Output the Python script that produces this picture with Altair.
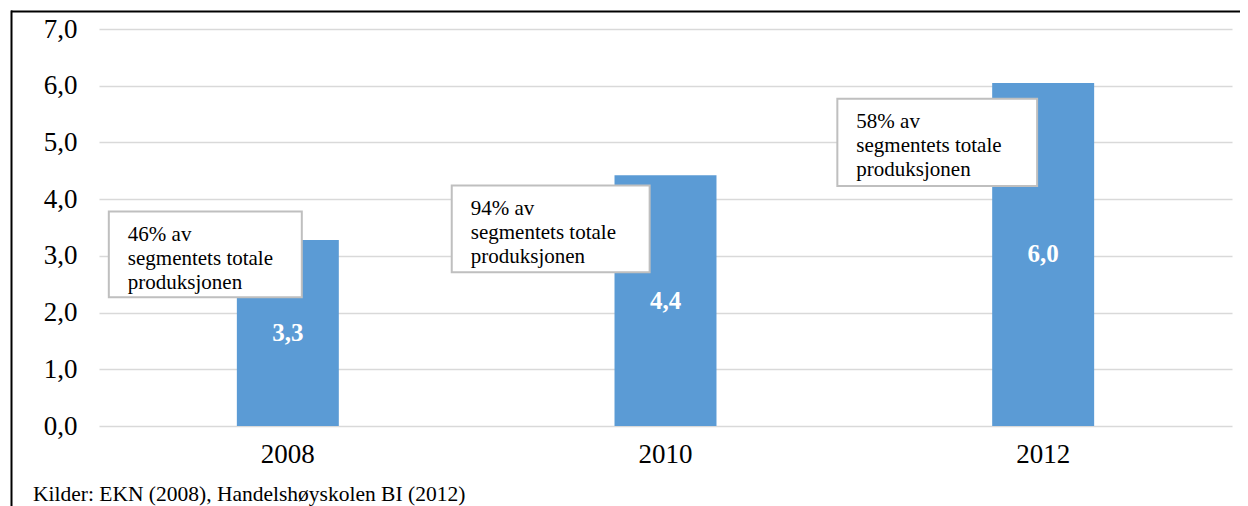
import altair as alt
import pandas as pd

# ---- data ----
years = ["2008", "2010", "2012"]
values = [3.28, 4.42, 6.05]
value_labels = ["3,3", "4,4", "6,0"]
y_ticks = [0, 1, 2, 3, 4, 5, 6, 7]

notes = [
    "46% av|segmentets totale|produksjonen",
    "94% av|segmentets totale|produksjonen",
    "58% av|segmentets totale|produksjonen",
]
# annotation box extents (x in category units 0..3, y in data units)
box_x0 = [0.026, 0.934, 1.955]
box_x1 = [0.537, 1.458, 2.484]
box_top = [3.78, 4.24, 5.77]
box_bottom = [2.27, 2.71, 4.23]

source_text = "Kilder: EKN (2008), Handelshøyskolen BI (2012)"

FONT = "Liberation Serif"

bars_df = pd.DataFrame({"year": years, "value": values, "label": value_labels})
box_df = pd.DataFrame({"x0": box_x0, "x1": box_x1, "top": box_top,
                       "bottom": box_bottom, "note": notes})
src_df = pd.DataFrame({"t": [source_text]})

xband = alt.Scale(paddingInner=0.73, paddingOuter=0.365)
yscale = alt.Scale(domain=[0, 7])

bars = alt.Chart(bars_df).mark_bar(color="#5b9bd5").encode(
    x=alt.X("year:N", scale=xband, title=None,
            axis=alt.Axis(labelAngle=0, domain=False, ticks=False, grid=False,
                          labelFont=FONT, labelFontSize=27, labelColor="black",
                          labelPadding=15)),
    y=alt.Y("value:Q", scale=yscale, title=None,
            axis=alt.Axis(values=y_ticks, domain=False, ticks=False, grid=True,
                          gridColor="#d9d9d9", gridWidth=1.5,
                          labelFont=FONT, labelFontSize=27, labelColor="black",
                          labelPadding=22,
                          labelExpr="replace(format(datum.value, '.1f'), '.', ',')")),
)

bar_labels = alt.Chart(bars_df).transform_calculate(
    mid="datum.value / 2"
).mark_text(color="white", font=FONT, fontSize=25, fontWeight="bold",
            baseline="middle").encode(
    x=alt.X("year:N", scale=xband, title=None),
    y=alt.Y("mid:Q", scale=yscale, title=None),
    text="label:N",
)

boxes = alt.Chart(box_df).mark_rect(fill="white", stroke="#bfbfbf",
                                    strokeWidth=2).encode(
    x=alt.X("x0:Q", scale=alt.Scale(domain=[0, 3], nice=False, zero=False),
            axis=None),
    x2="x1:Q",
    y=alt.Y("top:Q", scale=yscale, title=None),
    y2="bottom:Q",
)

box_text = alt.Chart(box_df).mark_text(
    align="left", baseline="alphabetic", dx=19, dy=29, font=FONT,
    fontSize=21, lineHeight=24, lineBreak="|", color="black"
).encode(
    x=alt.X("x0:Q", scale=alt.Scale(domain=[0, 3], nice=False, zero=False),
            axis=None),
    y=alt.Y("top:Q", scale=yscale, title=None),
    text="note:N",
)

footer = alt.Chart(src_df).mark_text(
    align="left", baseline="alphabetic", font=FONT, fontSize=21.5, color="black"
).encode(x=alt.value(-66), y=alt.value(472), text="t:N")

top_border = alt.Chart(src_df).mark_rule(color="black", strokeWidth=2).encode(
    x=alt.value(-88), x2=alt.value(1160), y=alt.value(-17.5))
left_border = alt.Chart(src_df).mark_rule(color="black", strokeWidth=2).encode(
    x=alt.value(-87.5), y=alt.value(-18.5), y2=alt.value(490))

main = alt.layer(bars, bar_labels)
notes_layer = alt.layer(boxes, box_text)

chart = alt.layer(main, notes_layer, footer, top_border, left_border).resolve_scale(
    x="independent"
).properties(
    width=1133, height=397,
    autosize=alt.AutoSizeParams(type="none"),
    padding={"left": 91, "top": 21, "right": 8, "bottom": 80},
).configure_view(stroke=None)

chart.save("out.html", embed_options={"renderer": "svg", "actions": False})
